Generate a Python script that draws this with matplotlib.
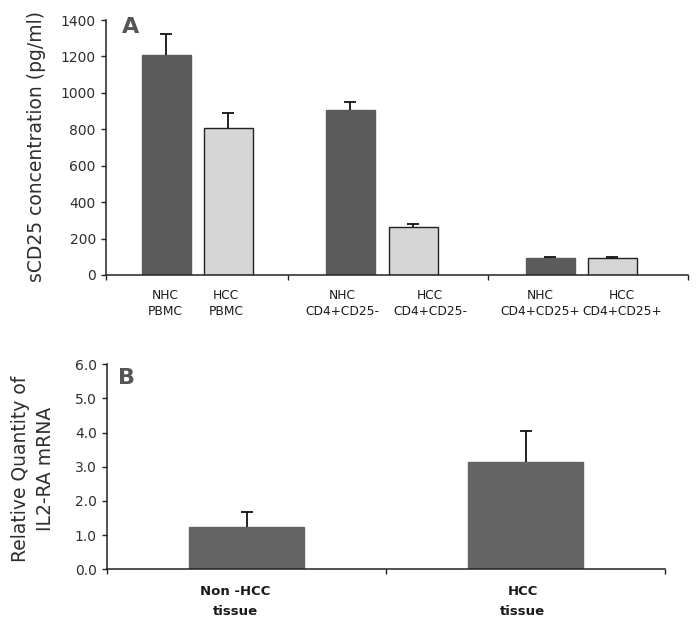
import numpy as np
import matplotlib
matplotlib.use("Agg")
import matplotlib.pyplot as plt

# panel A: sCD25 in culture supernatants
a_labels = ["NHC\nPBMC", "HCC\nPBMC", "NHC\nCD4+CD25-", "HCC\nCD4+CD25-",
            "NHC\nCD4+CD25+", "HCC\nCD4+CD25+"]
a_means = [1208, 808, 906, 265, 95, 92]
a_err = [115, 81, 44, 15, 5, 5]
a_kind = ["NHC", "HCC", "NHC", "HCC", "NHC", "HCC"]

# panel B: IL2-RA mRNA
b_labels = ["Non -HCC\ntissue", "HCC\ntissue"]
b_means = [1.23, 3.13]
b_err = [0.44, 0.91]

# layout (x positions in axis units)
a_x = [0.31, 0.63, 1.26, 1.585, 2.29, 2.61]
a_lab_x = [0.304, 0.619, 1.216, 1.67, 2.237, 2.66]
a_sep = [0, 0.94, 1.97, 3]
b_x = [0.5, 1.5]
b_lab_x = [0.46, 1.49]
b_sep = [0, 1, 2]

dark = "#5b5b5b"
light = "#d6d6d6"
txt = "#2e2e2e"

fig = plt.figure(figsize=(6.99, 6.25), dpi=100)
W, H = 699, 625
axA = fig.add_axes([106 / W, 1 - 275 / H, 582 / W, 255 / H])
axB = fig.add_axes([107 / W, 1 - 569.3 / H, 558 / W, 205 / H])


def style(ax):
    for s in ["top", "right"]:
        ax.spines[s].set_visible(False)
    for s in ["left", "bottom"]:
        ax.spines[s].set_linewidth(1.1)
        ax.spines[s].set_color("#222222")
    ax.tick_params(axis="both", which="major", direction="out", length=3.8,
                   width=1.0, color="#222222", labelcolor=txt)
    ax.tick_params(axis="x", which="major", labelbottom=False)
    ax.tick_params(axis="x", which="minor", length=0)


def upper_err(ax, x, y, e):
    eb = ax.errorbar(x, y, yerr=[np.zeros(len(e)), e], fmt="none",
                     ecolor="#111111", elinewidth=1.3, capsize=4, capthick=1.3)
    eb[1][0].set_visible(False)


# ---- A ----
colsA = [dark if k == "NHC" else light for k in a_kind]
edgA = [dark if k == "NHC" else "#222222" for k in a_kind]
axA.bar(a_x, a_means, width=0.253, color=colsA, edgecolor=edgA, linewidth=1.0, zorder=2)
upper_err(axA, a_x, a_means, a_err)
axA.set_xlim(0, 3)
axA.set_ylim(0, 1400)
axA.set_yticks(np.arange(0, 1401, 200))
axA.set_xticks(a_sep)
axA.set_xticks(a_lab_x, minor=True)
axA.set_xticklabels(a_labels, minor=True, fontsize=8.8, color="#1a1a1a",
                    linespacing=1.3)
style(axA)
axA.tick_params(axis="y", labelsize=10)
axA.tick_params(axis="x", which="minor", pad=10)
axA.text(0.027, 1.012, "A", transform=axA.transAxes, fontsize=16,
         fontweight="bold", color="#555555", va="top", ha="left")
fig.text(37 / W, 1 - 147 / H, "sCD25 concentration (pg/ml)", rotation=90,
         ha="center", va="center", fontsize=13.5, color=txt)

# ---- B ----
axB.bar(b_x, b_means, width=0.41, color="#646464", edgecolor="#646464", zorder=2)
upper_err(axB, b_x, b_means, b_err)
axB.set_xlim(0, 2)
axB.set_ylim(0, 6)
axB.set_yticks(np.arange(0, 6.1, 1.0))
axB.set_yticklabels(["%.1f" % v for v in np.arange(0, 6.1, 1.0)])
axB.set_xticks(b_sep)
axB.set_xticks(b_lab_x, minor=True)
axB.set_xticklabels(b_labels, minor=True, fontsize=9.5, fontweight="bold",
                    color="#1a1a1a", linespacing=1.75)
style(axB)
axB.tick_params(axis="y", labelsize=10)
axB.tick_params(axis="x", which="minor", pad=11)
axB.text(0.02, 0.982, "B", transform=axB.transAxes, fontsize=16,
         fontweight="bold", color="#555555", va="top", ha="left")
fig.text(33.5 / W, 1 - 469 / H, "Relative Quantity of\nIL2-RA mRNA", rotation=90,
         ha="center", va="center", fontsize=13.5, color=txt, linespacing=1.4)

fig.savefig("out.png", dpi=100)
